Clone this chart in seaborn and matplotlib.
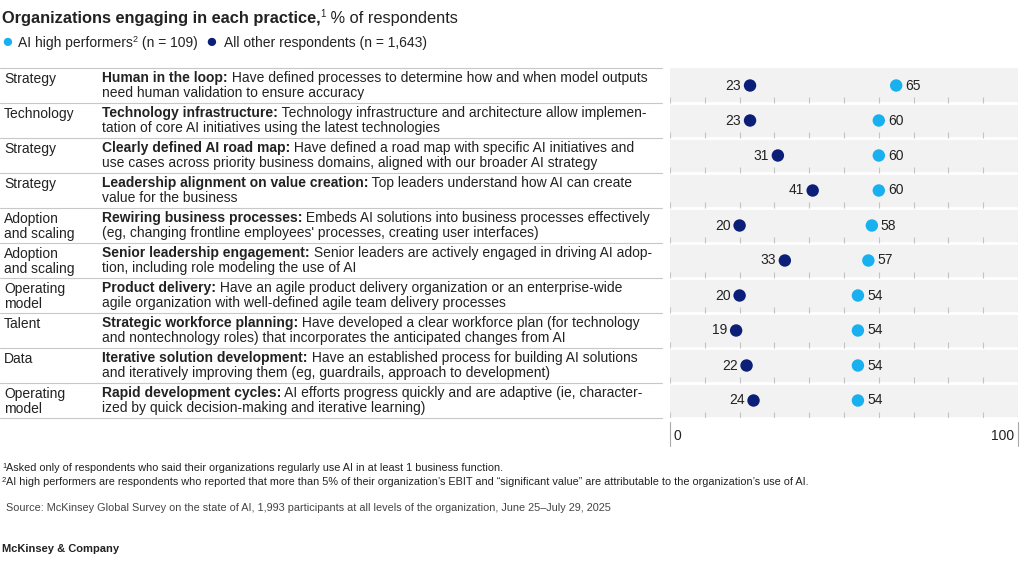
import pandas as pd
import seaborn as sns
from matplotlib import pyplot as plt

sns.set_style("white")
plt.rcParams['font.family'] = ['Liberation Sans', 'DejaVu Sans']

categories = ['Strategy', 'Technology', 'Strategy', 'Strategy', 'Adoption\nand scaling',
              'Adoption\nand scaling', 'Operating\nmodel', 'Talent', 'Data', 'Operating\nmodel']
titles = ['Human in the loop:', 'Technology infrastructure:', 'Clearly defined AI road map:',
          'Leadership alignment on value creation:', 'Rewiring business processes:',
          'Senior leadership engagement:', 'Product delivery:', 'Strategic workforce planning:',
          'Iterative solution development:', 'Rapid development cycles:']
desc_line1 = [' Have defined processes to determine how and when model outputs',
              ' Technology infrastructure and architecture allow implemen-',
              ' Have defined a road map with specific AI initiatives and',
              ' Top leaders understand how AI can create',
              ' Embeds AI solutions into business processes effectively',
              ' Senior leaders are actively engaged in driving AI adop-',
              ' Have an agile product delivery organization or an enterprise-wide',
              ' Have developed a clear workforce plan (for technology',
              ' Have an established process for building AI solutions',
              ' AI efforts progress quickly and are adaptive (ie, character-']
desc_line2 = ['need human validation to ensure accuracy',
              'tation of core AI initiatives using the latest technologies',
              'use cases across priority business domains, aligned with our broader AI strategy',
              'value for the business',
              "(eg, changing frontline employees' processes, creating user interfaces)",
              'tion, including role modeling the use of AI',
              'agile organization with well-defined agile team delivery processes',
              'and nontechnology roles) that incorporates the anticipated changes from AI',
              'and iteratively improving them (eg, guardrails, approach to development)',
              'ized by quick decision-making and iterative learning)']
high_performers = [65, 60, 60, 60, 58, 57, 54, 54, 54, 54]
other_respondents = [23, 23, 31, 41, 20, 33, 20, 19, 22, 24]

LIGHT = '#19B0F0'
NAVY = '#0B1F78'
TXT = '#222222'

fig = plt.figure(figsize=(10.24, 5.64), dpi=100)
W, H = 1024, 564


def fx(px):
    return px / W


def fy(py):
    return 1 - py / H


renderer = fig.canvas.get_renderer()


def run_text(x, y, pieces, color=TXT):
    # place text pieces one after another on a line, in pixel coords
    for s, weight, size, dy in pieces:
        t = fig.text(fx(x), fy(y - dy), s, fontsize=size, fontweight=weight,
                     color=color, va='baseline')
        x += t.get_window_extent(renderer).width
    return x


run_text(2, 23, [('Organizations engaging in each practice,', 'bold', 11.8, 0),
                 ('1', 'normal', 7, 6), (' % of respondents', 'normal', 11.8, 0)])

fig.text(fx(1), fy(43), '\u25CF', color=LIGHT, fontsize=14, va='center')
run_text(18, 47, [('AI high performers', 'normal', 10, 0), ('2', 'normal', 6.5, 5),
                  (' (n = 109)', 'normal', 10, 0)])
fig.text(fx(205), fy(43), '\u25CF', color=NAVY, fontsize=14, va='center')
fig.text(fx(224), fy(47), 'All other respondents (n = 1,643)', fontsize=10, color=TXT, va='baseline')

# left table
top, row_h = 68, 35
for i in range(len(categories)):
    y0 = top + i * row_h
    fig.add_artist(plt.Line2D([fx(0), fx(662)], [fy(y0), fy(y0)], color='#c8c8c8', lw=0.8))
    fig.text(fx(4), fy(y0 + 4), categories[i], fontsize=10, color=TXT, va='top', linespacing=1.05)
    run_text(102, y0 + 14, [(titles[i], 'bold', 10, 0), (desc_line1[i], 'normal', 10, 0)])
    fig.text(fx(102), fy(y0 + 29), desc_line2[i], fontsize=10, color=TXT, va='baseline')
fig.add_artist(plt.Line2D([fx(0), fx(662)], [fy(top + 10 * row_h)] * 2, color='#c8c8c8', lw=0.8))

# dot plot
ax = fig.add_axes([fx(670), fy(top + 10 * row_h), fx(1018 - 670), (10 * row_h) / H])
ax.set_facecolor('#f2f2f2')
n = len(high_performers)
df = pd.DataFrame({
    'row': list(range(n)) * 2,
    'value': high_performers + other_respondents,
    'group': ['high'] * n + ['other'] * n,
})
sns.scatterplot(data=df, x='value', y='row', hue='group', palette={'high': LIGHT, 'other': NAVY},
                s=80, edgecolor='none', legend=False, ax=ax, zorder=3)
for i in range(n):
    ax.axhline(i + 0.5, color='white', lw=2, zorder=1)
    ax.vlines(range(0, 101, 10), i + 0.5, i + 0.32, color='#c4c4c4', lw=0.8, zorder=2)
    ax.text(high_performers[i] + 2.6, i, str(high_performers[i]), fontsize=10, color=TXT,
            va='center', ha='left')
    ax.text(other_respondents[i] - 2.6, i, str(other_respondents[i]), fontsize=10, color=TXT,
            va='center', ha='right')
ax.set_xlim(0, 100)
ax.set_ylim(n - 0.5, -0.5)
ax.set_xticks([])
ax.set_yticks([])
ax.set_xlabel('')
ax.set_ylabel('')
for sp in ax.spines.values():
    sp.set_visible(False)
for xv in (0, 1):
    ax.add_artist(plt.Line2D([xv, xv], [-0.01, -0.08], transform=ax.transAxes, color='#aaaaaa',
                             lw=0.8, clip_on=False))
ax.text(0.01, -0.05, '0', transform=ax.transAxes, fontsize=10, color=TXT, va='center', ha='left')
ax.text(0.99, -0.05, '100', transform=ax.transAxes, fontsize=10, color=TXT, va='center', ha='right')

# footnotes
run_text(2, 471, [('1', 'normal', 5.5, 3),
                  ('Asked only of respondents who said their organizations regularly use AI in at least 1 business function.',
                   'normal', 7.8, 0)])
run_text(2, 485, [('2', 'normal', 5.5, 3),
                  ('AI high performers are respondents who reported that more than 5% of their organization\u2019s EBIT and '
                   '\u201csignificant value\u201d are attributable to the organization\u2019s use of AI.', 'normal', 7.8, 0)])
fig.text(fx(6), fy(511), 'Source: McKinsey Global Survey on the state of AI, 1,993 participants at all levels of the '
         'organization, June 25\u2013July 29, 2025', fontsize=7.8, color='#444444', va='baseline')
fig.text(fx(2), fy(552), 'McKinsey & Company', fontsize=8, fontweight='bold', color=TXT, va='baseline')

fig.savefig('out.png', dpi=100)
